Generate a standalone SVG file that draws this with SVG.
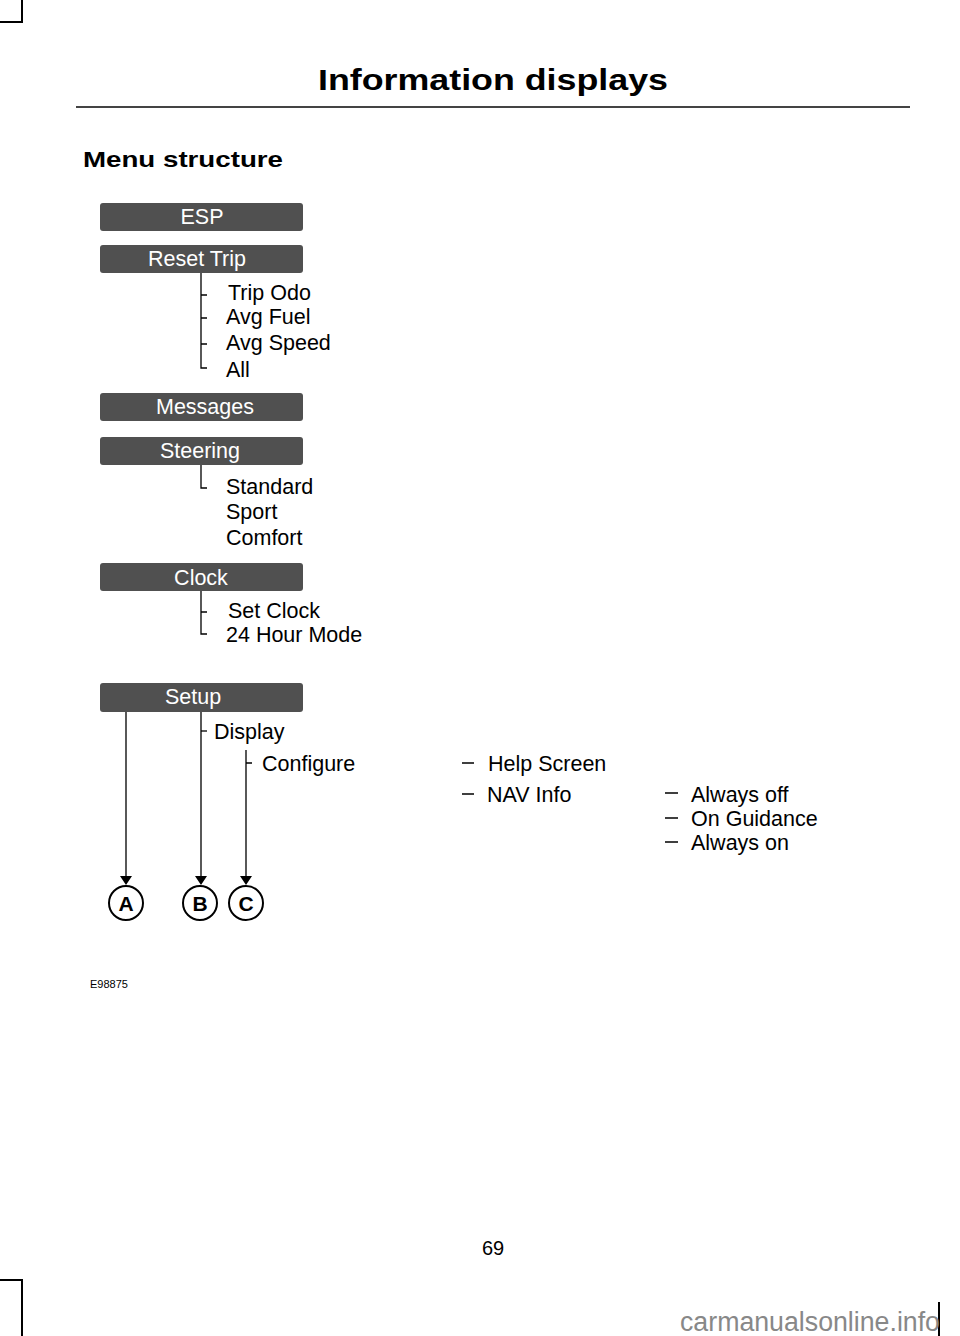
<svg xmlns="http://www.w3.org/2000/svg" width="960" height="1336" viewBox="0 0 960 1336">
<style>
.box{fill:#505050;}
.bt{font-family:"Liberation Sans",Arial,sans-serif;font-size:21.5px;fill:#fff;text-anchor:middle;}
.t{font-family:"Liberation Sans",Arial,sans-serif;font-size:21.5px;fill:#000;}
.ln{stroke:#000;stroke-width:1.3;fill:none;}
.crop{stroke:#000;stroke-width:2;fill:none;}
.circ{fill:#fff;stroke:#000;stroke-width:2;}
.ct{font-family:"Liberation Sans",Arial,sans-serif;font-size:21px;font-weight:bold;text-anchor:middle;}
</style>
<rect width="960" height="1336" fill="#fff"/>
<g id="cropmarks">
<path class="crop" d="M0,22 H22 V0"/>
<path class="crop" d="M0,1280 H22 V1336"/>
<path class="crop" d="M939,1302 V1336"/>
</g>
<g id="header">
<text x="493" y="90" font-family="Liberation Sans,Arial,sans-serif" font-size="30" font-weight="bold" text-anchor="middle" textLength="350" lengthAdjust="spacingAndGlyphs">Information displays</text>
<line x1="76" y1="107" x2="910" y2="107" stroke="#444" stroke-width="2"/>
<text x="83" y="167" font-family="Liberation Sans,Arial,sans-serif" font-size="22" font-weight="bold" textLength="200" lengthAdjust="spacingAndGlyphs">Menu structure</text>
</g>
<g id="connectors">
<path class="ln" d="M201,273 V368 H207 M201,295 H207 M201,318 H207 M201,344 H207"/>
<path class="ln" d="M201,465 V488 H207"/>
<path class="ln" d="M201,591 V634 H207 M201,612 H207"/>
<path class="ln" d="M201,731 H207"/>
<path class="ln" d="M246,750 V880 M246,763 H252"/>
<path class="ln" d="M126,712 V880 M201,712 V880"/>
<path d="M120,876 H132 L126,885 Z M195,876 H207 L201,885 Z M240,876 H252 L246,885 Z" fill="#000"/>
<path class="ln" d="M462,763 H474 M462,794 H474 M665,793 H678 M665,818 H678 M665,842 H678"/>
</g>
<g id="esp"><rect class="box" x="100" y="203" width="203" height="28" rx="3"/><text class="bt" x="202" y="224">ESP</text></g>
<g id="reset-trip"><rect class="box" x="100" y="245" width="203" height="28" rx="3"/><text class="bt" x="197" y="266">Reset Trip</text>
<text class="t" x="228" y="300">Trip Odo</text><text class="t" x="226" y="324">Avg Fuel</text><text class="t" x="226" y="350">Avg Speed</text><text class="t" x="226" y="377">All</text></g>
<g id="messages"><rect class="box" x="100" y="393" width="203" height="28" rx="3"/><text class="bt" x="205" y="414">Messages</text></g>
<g id="steering"><rect class="box" x="100" y="437" width="203" height="28" rx="3"/><text class="bt" x="200" y="458">Steering</text>
<text class="t" x="226" y="494">Standard</text><text class="t" x="226" y="519">Sport</text><text class="t" x="226" y="545">Comfort</text></g>
<g id="clock"><rect class="box" x="100" y="563" width="203" height="28" rx="3"/><text class="bt" x="201" y="585">Clock</text>
<text class="t" x="228" y="618">Set Clock</text><text class="t" x="226" y="642">24 Hour Mode</text></g>
<g id="setup"><rect class="box" x="100" y="683" width="203" height="29" rx="3"/><text class="bt" x="193" y="704">Setup</text>
<text class="t" x="214" y="739">Display</text><text class="t" x="262" y="771">Configure</text>
<text class="t" x="488" y="771">Help Screen</text><text class="t" x="487" y="802">NAV Info</text>
<text class="t" x="691" y="802">Always off</text><text class="t" x="691" y="826">On Guidance</text><text class="t" x="691" y="850">Always on</text></g>
<g id="label-a"><circle class="circ" cx="126" cy="903" r="17"/><text class="ct" x="126" y="911">A</text></g>
<g id="label-b"><circle class="circ" cx="200" cy="903" r="17"/><text class="ct" x="200" y="911">B</text></g>
<g id="label-c"><circle class="circ" cx="246" cy="903" r="17"/><text class="ct" x="246" y="911">C</text></g>
<g id="footer">
<text x="90" y="988" font-family="Liberation Sans,Arial,sans-serif" font-size="11">E98875</text>
<text x="493" y="1255" font-family="Liberation Sans,Arial,sans-serif" font-size="20" text-anchor="middle">69</text>
<text x="680" y="1331" font-family="Liberation Sans,Arial,sans-serif" font-size="27" fill="#888" textLength="260" lengthAdjust="spacingAndGlyphs">carmanualsonline.info</text>
</g>
</svg>
